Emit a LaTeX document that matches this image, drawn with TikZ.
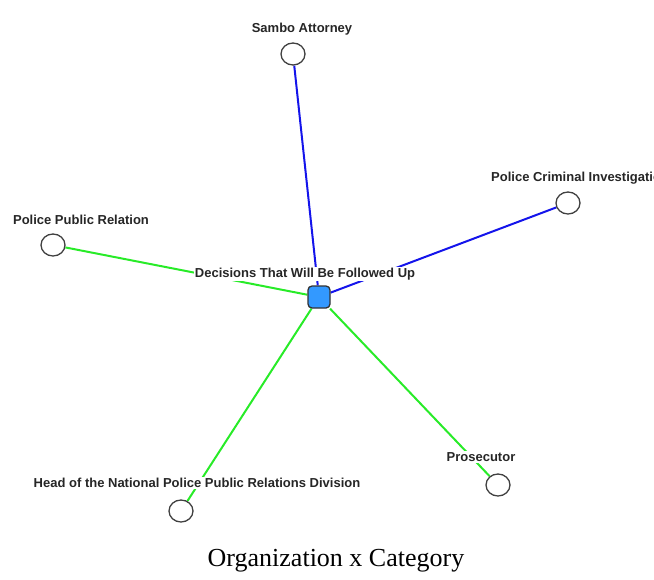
\documentclass[tikz,border=0pt]{standalone}
\usepackage{fontspec}
\setmainfont{Liberation Serif}
\setsansfont{Liberation Sans}
\usetikzlibrary{shapes.geometric,backgrounds}
\definecolor{hubblue}{RGB}{51,153,255}
\definecolor{linkblue}{RGB}{20,20,235}
\definecolor{linkgreen}{RGB}{40,235,40}
\tikzset{>=latex,
  actor/.style={ellipse,draw=black!75,fill=white,line width=1.3pt,minimum width=24pt,minimum height=22pt,inner sep=0pt},
  hub/.style={rectangle,rounded corners=4pt,draw=black!80,fill=hubblue,line width=1.3pt,minimum size=22pt,inner sep=0pt},
  tag/.style={fill=white,inner sep=1pt,font=\sffamily\bfseries\fontsize{13}{15}\selectfont,text=black!85},
  toorg/.style={linkblue,line width=2pt},
  tocat/.style={linkgreen,line width=2pt}}

\begin{document}
\begin{tikzpicture}[x=1pt,y=-1pt]
\useasboundingbox (0,0) rectangle (654,579);
\clip (0,0) rectangle (654,579);
% nodes
\node [hub] (dec) at (319,297) {};
\node [actor] (sambo) at (293,54) {};
\node [actor] (pci) at (568,203) {};
\node [actor] (ppr) at (53,245) {};
\node [actor] (head) at (181,511) {};
\node [actor] (pros) at (498,485) {};
% edges
\begin{pgfonlayer}{background}
\draw [toorg] (sambo) -- (dec);
\draw [toorg] (pci) -- (dec);
\draw [tocat] (ppr) -- (dec);
\draw [tocat] (head) -- (dec);
\draw [tocat] (pros) -- (dec);
\end{pgfonlayer}
% labels
\node [tag] (decl) at (305,274) {Decisions That Will Be Followed Up};
\node [tag] (sambol) at (302,29) {Sambo Attorney};
\node [tag,anchor=west] (pcil) at (490,178) {Police Criminal Investigation};
\node [tag] (pprl) at (81,220) {Police Public Relation};
\node [tag] (headl) at (197,483) {Head of the National Police Public Relations Division};
\node [tag] (prosl) at (481,457) {Prosecutor};
\node [font=\fontsize{26}{30}\selectfont] (cap) at (336,561) {Organization x Category};
\end{tikzpicture}
\end{document}
